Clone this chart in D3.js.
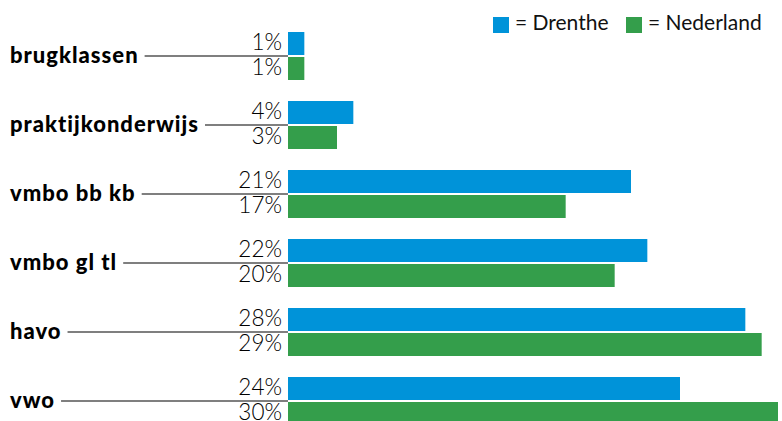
<!DOCTYPE html>
<html><head><meta charset="utf-8">
<script src="https://cdn.jsdelivr.net/npm/d3@7"></script>
<style>body{margin:0;background:#fff}svg{display:block}</style>
</head><body>
<script>
const categories = ["brugklassen","praktijkonderwijs","vmbo bb kb","vmbo gl tl","havo","vwo"];
const seriesNames = ["Drenthe","Nederland"];
const drenthe = [1,4,21,22,28,24];
const nederland = [1,3,17,20,29,30];
const colors = ["#0093d9","#349e4b"];

const W=782,H=421;
const svg=d3.select("body").append("svg").attr("width",W).attr("height",H);
const x=d3.scaleLinear().domain([0,30]).range([288,778]);
const y0=d3.scaleBand().domain(categories).range([32,425]).paddingInner(21/69).paddingOuter(0);
const y1=d3.scaleBand().domain(seriesNames).range([0,y0.bandwidth()]).paddingInner(2/25).paddingOuter(0);
const data=categories.map((c,i)=>({cat:c,vals:[{s:"Drenthe",v:drenthe[i]},{s:"Nederland",v:nederland[i]}]}));

const g=svg.selectAll("g.grp").data(data).enter().append("g").attr("class","grp")
  .attr("transform",d=>`translate(0,${y0(d.cat)})`);
g.selectAll("rect").data(d=>d.vals).enter().append("rect")
  .attr("x",x(0)).attr("y",d=>y1(d.s)).attr("width",d=>x(d.v)-x(0)).attr("height",y1.bandwidth())
  .attr("fill",(d,i)=>colors[i]);
g.selectAll("text.pct").data(d=>d.vals).enter().append("text").attr("class","pct")
  .attr("x",x(0)-6).attr("y",d=>y1(d.s)+y1.bandwidth()-5.5)
  .attr("text-anchor","end").attr("font-family","Lato, sans-serif").attr("font-weight",300)
  .attr("font-size",22.5).attr("fill","#000").text(d=>d.v+"%");
const mid=y0.bandwidth()/2;
const lab=g.append("text").attr("x",10).attr("y",mid).attr("dy","0.33em")
  .attr("font-family","Lato, sans-serif").attr("font-weight",900).attr("font-size",22)
  .attr("letter-spacing","1px")
  .attr("fill","#000").text(d=>d.cat);
lab.each(function(){
  const bb=this.getBBox();
  d3.select(this.parentNode).insert("line","rect").attr("x1",bb.x+bb.width+6).attr("x2",x(0)).attr("y1",mid).attr("y2",mid)
    .attr("stroke","#555").attr("stroke-width",1.6);
});

// legend
const leg=svg.append("g");
const legX=[493,626];
seriesNames.forEach((s,i)=>{
  leg.append("rect").attr("x",legX[i]).attr("y",17).attr("width",16).attr("height",16).attr("fill",colors[i]);
  leg.append("text").attr("x",legX[i]+22).attr("y",30).attr("font-family","Lato, sans-serif")
    .attr("font-weight",400).attr("font-size",21).attr("fill","#111").text("= "+s);
});
</script>
</body></html>
